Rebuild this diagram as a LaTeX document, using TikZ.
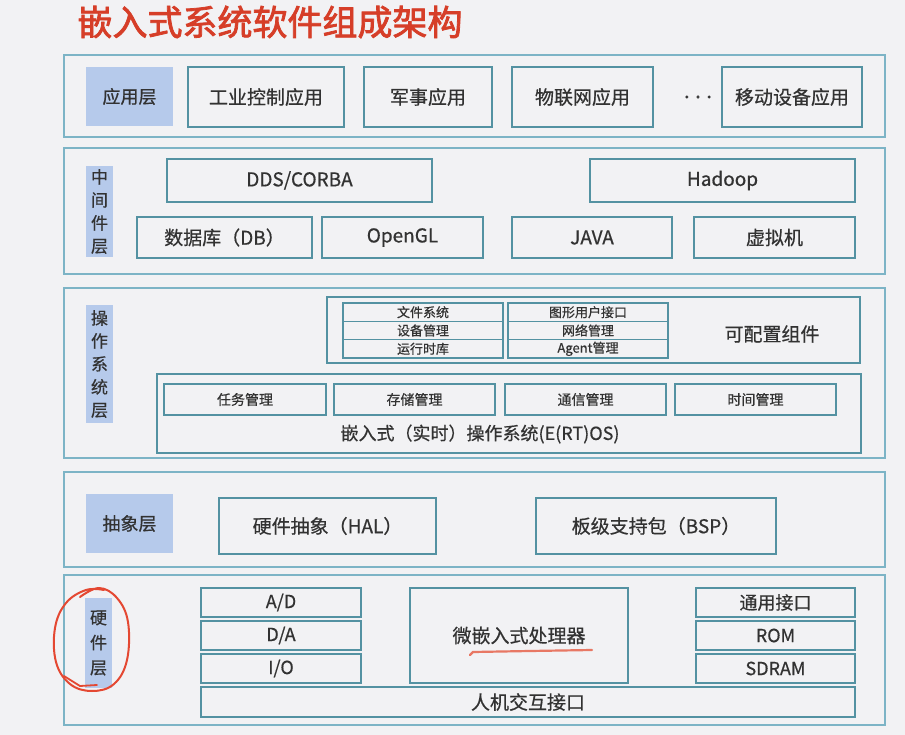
\documentclass[tikz,border=0pt]{standalone}
\usepackage{fontspec}
\setmainfont{Noto Sans CJK SC}[FakeBold=0.6]
\newfontfamily\titlefont{Noto Sans CJK SC}[FakeBold=2.2]
\newcommand\fsz[1]{\fontsize{#1}{#1}\selectfont}
\definecolor{bg}{RGB}{242,242,244}
\definecolor{layerc}{RGB}{125,180,198}
\definecolor{boxc}{RGB}{84,146,162}
\definecolor{tagc}{RGB}{182,202,235}
\definecolor{ink}{RGB}{50,50,50}
\definecolor{titlec}{RGB}{214,62,40}
\definecolor{pen}{RGB}{228,72,50}
\definecolor{penlight}{RGB}{232,120,100}
\begin{document}
\begin{tikzpicture}[x=1pt,y=-1pt,
  every node/.style={font=\fsz{19}, text=ink, inner sep=0pt, outer sep=0pt},
  layer/.style={draw=layerc, line width=2.6pt},
  box/.style={draw=boxc, line width=2pt},
  row/.style={draw=boxc, line width=1.5pt},
  frame/.style={draw=boxc, line width=2.6pt},
  tag/.style={fill=tagc, font=\fsz{18}},
  vtag/.style={fill=tagc, align=center, font=\fontsize{17}{23}\selectfont},
  small/.style={font=\fsz{13}},
  mid/.style={font=\fsz{14}},
  hw/.style={font=\fsz{18}}
]
% canvas
\fill[bg] (0,0) rectangle (905,735);
\useasboundingbox (0,0) rectangle (905,735);

% title
\node[font=\titlefont\fsz{35}, text=titlec] (title) at (270,22) {嵌入式系统软件组成架构};

% ---------- application layer ----------
\node[layer, minimum width=821, minimum height=82] (Lapp) at (474.5,96) {};
\node[tag, minimum width=87, minimum height=59] (tapp) at (129.5,96.5) {应用层};
\node[box, minimum width=156, minimum height=60] (ind) at (266,97) {工业控制应用};
\node[box, minimum width=128, minimum height=60] (mil) at (428,97) {军事应用};
\node[box, minimum width=141, minimum height=60] (iot) at (582.5,97) {物联网应用};
\node[font=\fsz{22}] (dots) at (698,97) {.\kern5pt.\kern5pt.};
\node[box, minimum width=140, minimum height=60] (mob) at (792,97) {移动设备应用};

% ---------- middleware layer ----------
\node[layer, minimum width=821, minimum height=126] (Lmid) at (474.5,211) {};
\node[vtag, minimum width=27, minimum height=91] (tmid) at (99.5,211.5) {中\\间\\件\\层};
\node[box, minimum width=265, minimum height=43] (dds) at (299.5,180.5) {DDS/CORBA};
\node[box, minimum width=265, minimum height=43] (hdp) at (722.5,180.5) {Hadoop};
\node[box, minimum width=175, minimum height=41] (db) at (224.5,237.5) {数据库（DB）};
\node[box, minimum width=161, minimum height=41] (gl) at (402.5,237.5) {OpenGL};
\node[box, minimum width=160, minimum height=41] (java) at (592,237.5) {JAVA};
\node[box, minimum width=161, minimum height=41] (vm) at (774.5,237.5) {虚拟机};

% ---------- operating system layer ----------
\node[layer, minimum width=821, minimum height=170] (Los) at (474.5,373) {};
\node[vtag, minimum width=27, minimum height=118] (tos) at (99.5,364) {操\\作\\系\\统\\层};
% configurable components
\node[box, minimum width=533, minimum height=66] (cfg) at (593.5,330) {};
\node (cfgt) at (772,334) {可配置组件};
\node[row, small, minimum width=160, minimum height=18.3] (fs) at (423,312.2) {文件系统};
\node[row, small, minimum width=160, minimum height=18.3] (dev) at (423,330.5) {设备管理};
\node[row, small, minimum width=160, minimum height=18.3] (rt) at (423,348.8) {运行时库};
\node[frame, minimum width=160, minimum height=55] (stkL) at (423,330.5) {};
\node[row, small, minimum width=160, minimum height=18.3] (gui) at (588,312.2) {图形用户接口};
\node[row, small, minimum width=160, minimum height=18.3] (net) at (588,330.5) {网络管理};
\node[row, small, minimum width=160, minimum height=18.3] (agt) at (588,348.8) {Agent管理};
\node[frame, minimum width=160, minimum height=55] (stkR) at (588,330.5) {};
% kernel
\node[box, minimum width=704, minimum height=79] (ertos) at (509,413.5) {};
\node[box, mid, minimum width=162, minimum height=31] (task) at (245,399.5) {任务管理};
\node[box, mid, minimum width=161, minimum height=31] (mem) at (414.5,399.5) {存储管理};
\node[box, mid, minimum width=161, minimum height=31] (com) at (585.5,399.5) {通信管理};
\node[box, mid, minimum width=161, minimum height=31] (tim) at (755.5,399.5) {时间管理};
\node[font=\fsz{18}] (ertost) at (480,434) {嵌入式（实时）操作系统(E(RT)OS)};

% ---------- abstraction layer ----------
\node[layer, minimum width=821, minimum height=95] (Labs) at (474.5,519.5) {};
\node[tag, minimum width=87, minimum height=59] (tabs) at (129.5,523.5) {抽象层};
\node[box, minimum width=217, minimum height=56] (hal) at (327.5,526) {硬件抽象（HAL）};
\node[box, minimum width=240, minimum height=56] (bsp) at (656,526) {板级支持包（BSP）};

% ---------- hardware layer ----------
\node[layer, minimum width=821, minimum height=150] (Lhw) at (474.5,650) {};
\node[vtag, minimum width=27, minimum height=90, font=\fontsize{17}{25}\selectfont] (thw) at (98.5,643) {硬\\件\\层};
\node[box, hw, minimum width=160, minimum height=29] (ad) at (281,602.5) {A/D};
\node[box, hw, minimum width=160, minimum height=29] (da) at (281,635.5) {D/A};
\node[box, hw, minimum width=160, minimum height=29] (io) at (281,668.5) {I/O};
\node[box, minimum width=218, minimum height=95] (cpu) at (519,635.5) {微嵌入式处理器};
\node[box, hw, minimum width=159, minimum height=29] (gio) at (775.5,602.5) {通用接口};
\node[box, hw, minimum width=159, minimum height=29] (rom) at (775.5,635.5) {ROM};
\node[box, hw, minimum width=159, minimum height=29] (ram) at (775.5,668.5) {SDRAM};
\node[box, minimum width=654, minimum height=30] (hmi) at (528,702) {人机交互接口};

% hand-drawn marks
\draw[pen, line width=2pt, line cap=round, line join=round]
  plot[smooth, tension=0.65] coordinates {(80,597) (99,588) (117,598) (128,622) (127,660) (114,684) (92,691) (70,684) (56,662) (55,628) (66,603) (86,590) (104,590)};
\draw[pen, line width=1.8pt, line cap=round] (64,676) -- (80,686) -- (97,685);
\draw[penlight, line width=2.2pt, line cap=round] (470,655) -- (473,652) -- (530,651) -- (592,650);
\end{tikzpicture}
\end{document}
